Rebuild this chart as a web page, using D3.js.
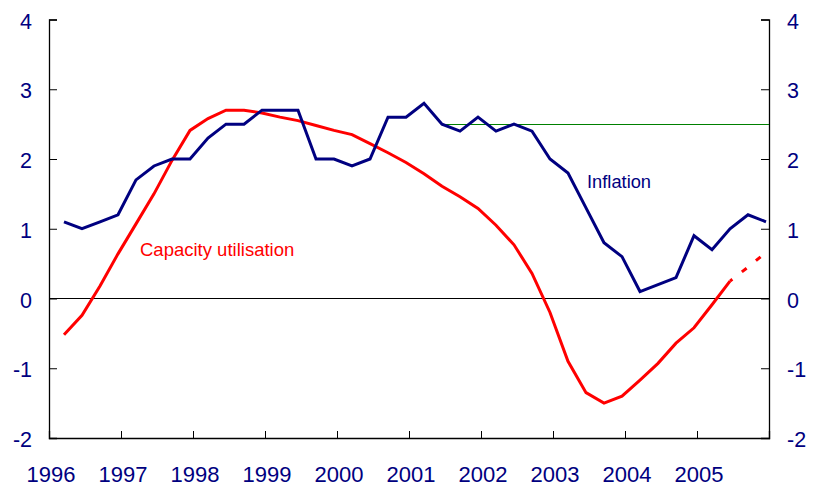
<!DOCTYPE html>
<html>
<head>
<meta charset="utf-8">
<script src="https://cdn.jsdelivr.net/npm/d3@7"></script>
<style>
  body { margin: 0; background: #fff; }
  text { font-family: "Liberation Sans", Arial, sans-serif; }
</style>
</head>
<body>
<script>
//data
var quarters = ["1996Q1","1996Q2","1996Q3","1996Q4","1997Q1","1997Q2","1997Q3","1997Q4",
                "1998Q1","1998Q2","1998Q3","1998Q4","1999Q1","1999Q2","1999Q3","1999Q4",
                "2000Q1","2000Q2","2000Q3","2000Q4","2001Q1","2001Q2","2001Q3","2001Q4",
                "2002Q1","2002Q2","2002Q3","2002Q4","2003Q1","2003Q2","2003Q3","2003Q4",
                "2004Q1","2004Q2","2004Q3","2004Q4","2005Q1","2005Q2","2005Q3","2005Q4"];
var inflation = [1.1, 1.0, 1.1, 1.2, 1.7, 1.9, 2.0, 2.0,
                 2.3, 2.5, 2.5, 2.7, 2.7, 2.7, 2.0, 2.0,
                 1.9, 2.0, 2.6, 2.6, 2.8, 2.5, 2.4, 2.6,
                 2.4, 2.5, 2.4, 2.0, 1.8, 1.3, 0.8, 0.6,
                 0.1, 0.2, 0.3, 0.9, 0.7, 1.0, 1.2, 1.1];
var capacity = [-0.52, -0.24, 0.18, 0.64, 1.07, 1.50, 1.98, 2.41,
                2.58, 2.70, 2.70, 2.66, 2.60, 2.55, 2.48, 2.41,
                2.35, 2.22, 2.09, 1.95, 1.79, 1.61, 1.46, 1.29,
                1.05, 0.77, 0.36, -0.20, -0.90, -1.35, -1.50, -1.40,
                -1.17, -0.93, -0.64, -0.42, -0.09, 0.25, 0.45, 0.66];
var forecastFrom = "2005Q2";   // capacity dashed from here on
var target = 2.5;
var targetFrom = "2001Q2";
var yearTicks = [1996, 1997, 1998, 1999, 2000, 2001, 2002, 2003, 2004, 2005, 2006];
var yearLabels = ["1996","1997","1998","1999","2000","2001","2002","2003","2004","2005",""];
var yTicks = [-2, -1, 0, 1, 2, 3, 4];

//variables
var cWidth = 813;
var cHeight = 489;
var plotL = 49, plotR = 769, plotT = 19.5, plotB = 438;
var navy = "#000080";

var xScale = d3.scaleLinear().domain([1996, 2006]).range([plotL, plotR]);
var yScale = d3.scaleLinear().domain([-2, 4]).range([plotB, plotT]);

// quarter -> decimal year, plotted at mid of last month of the quarter
function qTime(q) {
  var yr = +q.slice(0, 4), n = +q.slice(5);
  return yr + (n * 3 - 0.5) / 12;
}

var svg = d3.select("body")
    .append("svg")
    .attr("width", cWidth)
    .attr("height", cHeight);

// axes
svg.append("g")
    .attr("transform", "translate(" + plotL + ",0)")
    .call(d3.axisRight(yScale).tickValues(yTicks).tickSize(8).tickFormat(""))
    .call(styleAxis);
svg.append("g")
    .attr("transform", "translate(" + plotR + ",0)")
    .call(d3.axisLeft(yScale).tickValues(yTicks).tickSize(8).tickFormat(""))
    .call(styleAxis);
svg.append("g")
    .attr("transform", "translate(0," + plotB + ")")
    .call(d3.axisTop(xScale).tickValues(yearTicks).tickSize(7).tickFormat(""))
    .call(styleAxis);

function styleAxis(g) {
  g.select(".domain").attr("stroke", "#000").attr("stroke-width", 1.3);
  g.selectAll(".tick line").attr("stroke", "#000").attr("stroke-width", 1);
}

// tick labels
svg.append("g").selectAll("text")
    .data(yTicks).enter().append("text")
    .attr("x", 32).attr("y", yScale).attr("dy", "0.42em")
    .attr("text-anchor", "end")
    .attr("font-size", 21.5).attr("fill", navy)
    .text(function(d) { return d; });
svg.append("g").selectAll("text")
    .data(yTicks).enter().append("text")
    .attr("x", 787).attr("y", yScale).attr("dy", "0.42em")
    .attr("text-anchor", "start")
    .attr("font-size", 21.5).attr("fill", navy)
    .text(function(d) { return d; });
svg.append("g").selectAll("text")
    .data(yearTicks).enter().append("text")
    .attr("x", function(d) { return xScale(d) + 2; }).attr("y", 482)
    .attr("text-anchor", "middle")
    .attr("font-size", 22).attr("fill", navy)
    .text(function(d, i) { return yearLabels[i]; });

// zero line
svg.append("line")
    .attr("x1", plotL).attr("x2", plotR)
    .attr("y1", yScale(0)).attr("y2", yScale(0))
    .attr("stroke", "#000").attr("stroke-width", 1);

// inflation target
svg.append("line")
    .attr("x1", xScale(qTime(targetFrom))).attr("x2", plotR)
    .attr("y1", Math.round(yScale(target)) + 0.5).attr("y2", Math.round(yScale(target)) + 0.5)
    .attr("stroke", "#008000").attr("stroke-width", 1);

var line = d3.line()
    .x(function(d) { return xScale(qTime(d.q)); })
    .y(function(d) { return yScale(d.v); });

var infl = quarters.map(function(q, i) { return {q: q, v: inflation[i]}; });
var cap = quarters.map(function(q, i) { return {q: q, v: capacity[i]}; });
var split = quarters.indexOf(forecastFrom);

svg.append("path")
    .datum(cap.slice(0, split + 1))
    .attr("d", line)
    .attr("fill", "none").attr("stroke", "#ff0000").attr("stroke-width", 3);
svg.append("path")
    .datum(cap.slice(split))
    .attr("d", line)
    .attr("fill", "none").attr("stroke", "#ff0000").attr("stroke-width", 3)
    .attr("stroke-dasharray", "6,12").attr("stroke-dashoffset", 3);

svg.append("path")
    .datum(infl)
    .attr("d", line)
    .attr("fill", "none").attr("stroke", navy).attr("stroke-width", 3);

// series labels
svg.append("text")
    .attr("x", 140).attr("y", 256)
    .attr("font-size", 18.5).attr("fill", "#ff0000")
    .text("Capacity utilisation");
svg.append("text")
    .attr("x", 587).attr("y", 188)
    .attr("font-size", 18.3).attr("fill", navy)
    .text("Inflation");
</script>
</body>
</html>
